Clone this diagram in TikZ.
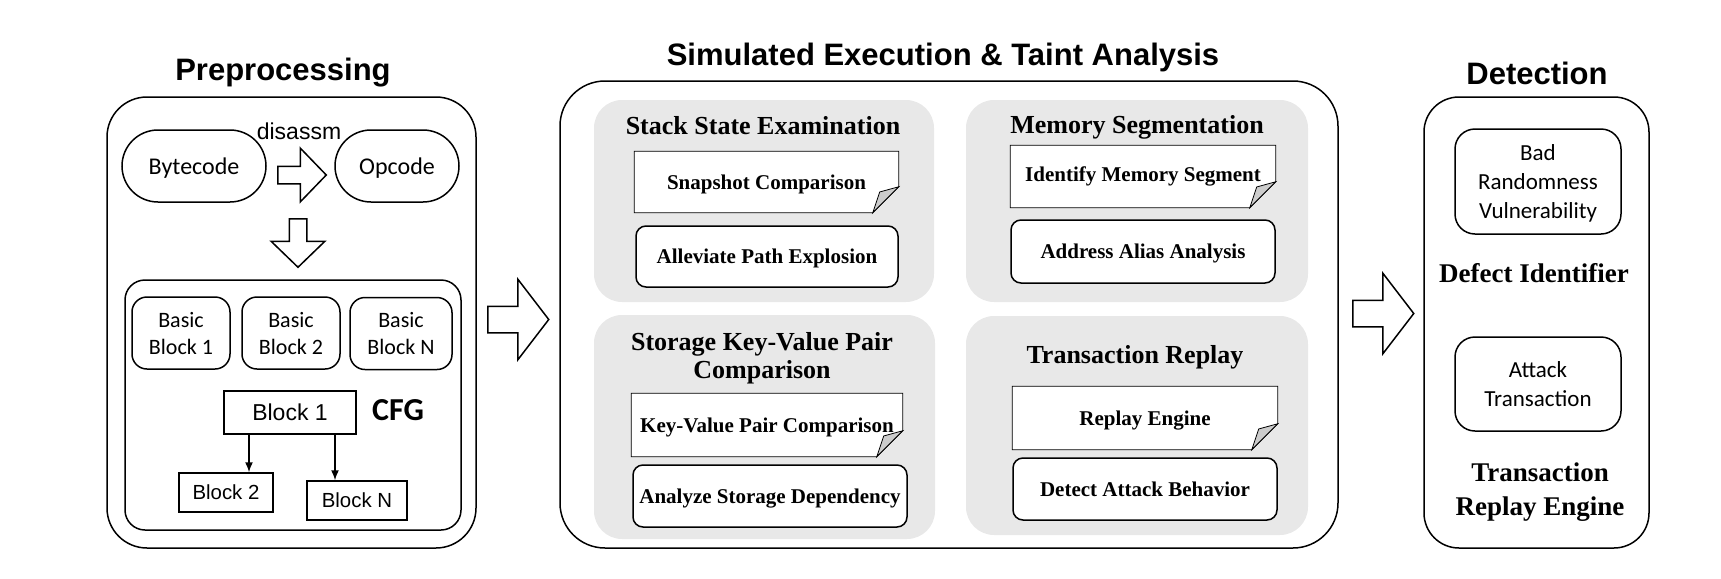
\documentclass[tikz,border=0pt]{standalone}
\usepackage{fontspec}
\setmainfont{Liberation Serif}
\newfontfamily\arialfont{Liberation Sans}
\newfontfamily\califont{Carlito}
\usetikzlibrary{shapes.arrows,arrows.meta,backgrounds}

% document box with a folded corner, drawn behind the node
\newcommand\dogear[1]{%
  \draw[fill=white] (#1.north west) -- (#1.north east)
    -- ([yshift=13pt]#1.south east) -- ([xshift=-13pt]#1.south east)
    -- (#1.south west) -- cycle;
  \draw[fill=gray!40] ([yshift=13pt]#1.south east)
    -- ([xshift=-9.5pt,yshift=10.4pt]#1.south east)
    -- ([xshift=-13pt]#1.south east) -- cycle;}

\begin{document}
\begin{tikzpicture}[x=0.5pt,y=-0.5pt,line width=0.75pt,>={Latex[length=5pt,width=4pt]},
  head/.style={font=\arialfont\bfseries\fontsize{15.5}{18}\selectfont},
  frame/.style={draw,inner sep=0pt},
  pill/.style={draw,rounded corners=18pt,minimum height=36pt,text depth=0pt,font=\califont\fontsize{12}{14}\selectfont},
  bblock/.style={draw,rounded corners=7.5pt,minimum width=49pt,minimum height=36pt,text depth=0pt,align=center,font=\califont\fontsize{11}{13.5}\selectfont},
  blk/.style={draw,minimum height=19.5pt,font=\arialfont\fontsize{10.2}{12}\selectfont},
  hollow/.style={draw,fill=white,single arrow,single arrow head indent=0pt,minimum width=0pt,anchor=tail},
  smallarrow/.style={hollow,inner sep=4pt,minimum height=24.25pt,single arrow head extend=9pt,single arrow tip angle=92},
  bigarrow/.style={hollow,inner sep=6.25pt,minimum height=30.5pt,single arrow head extend=13.5pt,single arrow tip angle=105},
  panel/.style={fill=gray!18,rounded corners=14pt,inner sep=0pt},
  ptitle/.style={font=\bfseries\fontsize{13}{14.2}\selectfont,align=center},
  docbox/.style={minimum width=132pt,minimum height=31pt,inner sep=0pt,text depth=0pt,font=\bfseries\fontsize{10.5}{12}\selectfont},
  item/.style={draw,fill=white,rounded corners=5pt,minimum width=132pt,minimum height=31pt,inner sep=0pt,text depth=0pt,font=\bfseries\fontsize{10.5}{12}\selectfont},
  dbox/.style={draw,rounded corners=10pt,minimum width=83pt,align=center,text depth=0pt,font=\califont\fontsize{11.5}{14.5}\selectfont},
  dlabel/.style={font=\bfseries\fontsize{13.5}{17}\selectfont,align=center}]
\useasboundingbox (0,0) rectangle (1721,579);
% preprocessing
\node[head] (tpre) at (283,73) {Preprocessing};
\node[frame,rounded corners=20pt,minimum width=184.5pt,minimum height=225.5pt] (pre) at (291.5,322.5) {};
\node[pill,minimum width=72pt] (byte) at (194,166) {Bytecode};
\node[pill,minimum width=62pt] (opc) at (397,166) {Opcode};
\node[font=\arialfont\fontsize{11.5}{13}\selectfont] (dis) at (299,131) {disassm};
\node[smallarrow] (toopc) at (277,175) {};
\node[smallarrow,shape border rotate=270] (tocfg) at (298,218) {};
\node[frame,rounded corners=10pt,minimum width=168pt,minimum height=125pt] (cfgbox) at (293,405) {};
\node[bblock] (bb1) at (181,333) {Basic\\Block 1};
\node[bblock] (bb2) at (291,333) {Basic\\Block 2};
\node[bblock,minimum width=51pt] (bbn) at (401,333.5) {Basic\\Block N};
\node[blk,minimum width=66pt,minimum height=21.5pt,font=\arialfont\fontsize{11.5}{13}\selectfont] (b1) at (290,412.5) {Block 1};
\node[font=\califont\bfseries\fontsize{16}{18}\selectfont] (cfg) at (398,410) {CFG};
\node[blk,minimum width=47pt] (b2) at (226,492.5) {Block 2};
\node[blk,minimum width=50pt] (bn) at (357,500.5) {Block N};
\coordinate (s2) at ([xshift=-20.5pt]b1.south);
\coordinate (sn) at ([xshift=22.5pt]b1.south);
\draw[->] (s2) -- (s2 |- b2.north);
\draw[->] (sn) -- (sn |- bn.north);
% simulated execution
\node[head] (tsim) at (943,57) {Simulated Execution \& Taint Analysis};
\node[frame,rounded corners=22.5pt,minimum width=389pt,minimum height=233.5pt] (sim) at (949,314.5) {};
\begin{scope}[on background layer]
\node[panel,minimum width=170pt,minimum height=101pt] (pstack) at (764,201) {};
\node[panel,minimum width=171pt,minimum height=101pt] (pmem) at (1137,201) {};
\node[panel,minimum width=170.5pt,minimum height=112pt] (psto) at (764.5,427) {};
\node[panel,minimum width=171pt,minimum height=109.5pt] (prep) at (1137,425.5) {};
\end{scope}
\node[ptitle] (tstack) at (763,125.5) {Stack State Examination};
\node[docbox,minimum width=131.5pt,minimum height=30pt] (snap) at (766.5,182) {Snapshot Comparison};
\node[item,minimum width=131pt,minimum height=30.5pt] (allev) at (767,256.5) {Alleviate Path Explosion};
\node[ptitle] (tmem) at (1137,127) {Memory Segmentation};
\node[docbox,minimum height=30.5pt,text depth=] (ident) at (1143,176.5) {Identify Memory Segment};
\node[item,minimum height=31.5pt] (addr) at (1143,251.5) {Address Alias Analysis};
\node[ptitle] (tsto) at (762,358) {Storage Key-Value Pair\\Comparison};
\node[docbox,minimum width=135pt] (kv) at (767,425) {Key-Value Pair Comparison};
\node[item,minimum width=137pt] (asd) at (770,496) {Analyze Storage Dependency};
\node[ptitle] (trep) at (1135,357) {Transaction Replay};
\node[docbox] (reng) at (1145,418) {Replay Engine};
\node[item] (dab) at (1145,489) {Detect Attack Behavior};
\begin{scope}[on background layer]
\foreach \d in {snap,ident,kv,reng} {\dogear{\d}}
\end{scope}
% detection
\node[head] (tdet) at (1537,73) {Detection};
\node[frame,rounded corners=17.5pt,minimum width=112.5pt,minimum height=225.5pt] (det) at (1536.5,322.5) {};
\node[dbox,minimum height=52.5pt] (bad) at (1538,181.5) {Bad\\Randomness\\Vulnerability};
\node[dlabel] (defid) at (1534,273) {Defect Identifier};
\node[dbox,minimum height=47pt] (atk) at (1538,384) {Attack\\Transaction};
\node[dlabel] (treng) at (1540,492) {Transaction\\Replay Engine};
% stage arrows
\node[bigarrow] (go1) at (487,319.5) {};
\node[bigarrow] (go2) at (1352,313.5) {};
\end{tikzpicture}
\end{document}
